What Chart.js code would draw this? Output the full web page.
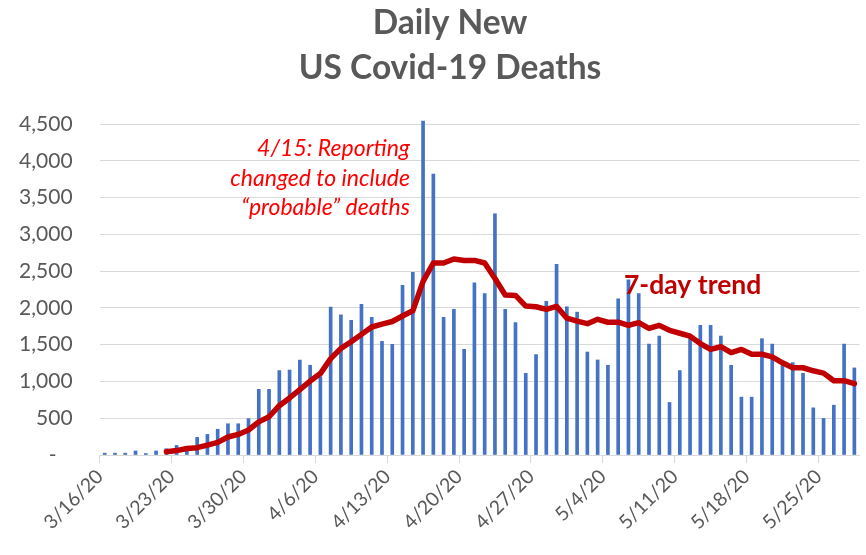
<!DOCTYPE html>
<html>
<head>
<meta charset="utf-8">
<script src="https://cdn.jsdelivr.net/npm/chart.js@4.4.1/dist/chart.umd.min.js"></script>
<style>
  html, body { margin: 0; padding: 0; background: #fff; }
  #wrap { width: 866px; height: 555px; }
</style>
</head>
<body>
<div id="wrap"><canvas id="deathsChart" width="866" height="555"></canvas></div>
<script>
// Data
const dates = [
  '3/16/20','3/17/20','3/18/20','3/19/20','3/20/20','3/21/20','3/22/20',
  '3/23/20','3/24/20','3/25/20','3/26/20','3/27/20','3/28/20','3/29/20',
  '3/30/20','3/31/20','4/1/20','4/2/20','4/3/20','4/4/20','4/5/20',
  '4/6/20','4/7/20','4/8/20','4/9/20','4/10/20','4/11/20','4/12/20',
  '4/13/20','4/14/20','4/15/20','4/16/20','4/17/20','4/18/20','4/19/20',
  '4/20/20','4/21/20','4/22/20','4/23/20','4/24/20','4/25/20','4/26/20',
  '4/27/20','4/28/20','4/29/20','4/30/20','5/1/20','5/2/20','5/3/20',
  '5/4/20','5/5/20','5/6/20','5/7/20','5/8/20','5/9/20','5/10/20',
  '5/11/20','5/12/20','5/13/20','5/14/20','5/15/20','5/16/20','5/17/20',
  '5/18/20','5/19/20','5/20/20','5/21/20','5/22/20','5/23/20','5/24/20',
  '5/25/20','5/26/20','5/27/20','5/28/20'
];

const dailyDeaths = [
  25, 25, 25, 55, 20, 55, 85, 130, 110, 240,
  280, 350, 425, 425, 495, 893, 893, 1148, 1155, 1290,
  1220, 1065, 2010, 1905, 1830, 2050, 1870, 1545, 1505, 2305,
  2485, 4540, 3820, 1870, 1980, 1437, 2340, 2195, 3280, 1980,
  1800, 1110, 1365, 2088, 2593, 2015, 1942, 1400, 1292, 1220,
  2124, 2380, 2195, 1508, 1617, 714, 1148, 1610, 1762, 1762,
  1617, 1220, 786, 786, 1581, 1508, 1227, 1256, 1111, 641,
  497, 677, 1508, 1184
];

const trend7 = [
  null, null, null, null, null, null,
  45, 60, 88, 100, 135, 172, 245, 280, 340, 450,
  520, 670, 775, 890, 1005, 1107, 1310, 1450, 1540, 1640,
  1740, 1780, 1815, 1890, 1960, 2360, 2610, 2610, 2665, 2645,
  2645, 2610, 2400, 2175, 2170, 2025, 2015, 1980, 2020, 1860,
  1820, 1785, 1845, 1805, 1805, 1762, 1800, 1720, 1762, 1695,
  1655, 1615, 1515, 1435, 1472, 1392, 1435, 1370, 1370, 1333,
  1253, 1186, 1186, 1145, 1113, 1010, 1010, 970
];

const yMax = 4500;
const yStep = 500;

const titleLines = ['Daily New', 'US Covid-19 Deaths'];
const noteLines = ['4/15: Reporting', 'changed to include', '\u201Cprobable\u201D deaths'];
const trendLabel = '7-day trend';

const FONT = 'Lato, "Open Sans", sans-serif';

// title + text notes drawn straight on the canvas
const textPlugin = {
  id: 'textNotes',
  afterDatasetsDraw(chart) {
    const c = chart.ctx;
    c.save();
    c.textBaseline = 'middle';

    c.fillStyle = '#595959';
    c.textAlign = 'center';
    c.font = 'bold 33.5px ' + FONT;
    c.fillText(titleLines[0], 450, 23);
    c.fillText(titleLines[1], 450, 68);

    c.fillStyle = '#FF0000';
    c.textAlign = 'right';
    c.font = 'italic 23px ' + FONT;
    c.fillText(noteLines[0], 410, 149);
    c.fillText(noteLines[1], 410, 179);
    c.fillText(noteLines[2], 410, 208);

    c.fillStyle = '#C00000';
    c.textAlign = 'left';
    c.font = 'bold 26.5px ' + FONT;
    c.fillText(trendLabel, 624, 285);
    c.restore();
  }
};

const ctx = document.getElementById('deathsChart').getContext('2d');
new Chart(ctx, {
  data: {
    labels: dates,
    datasets: [
      {
        type: 'line',
        label: '7-day trend',
        data: trend7,
        borderColor: '#C00000',
        borderWidth: 5.5,
        borderJoinStyle: 'round',
        borderCapStyle: 'round',
        pointRadius: 0,
        tension: 0,
        order: 0
      },
      {
        type: 'bar',
        label: 'Daily deaths',
        data: dailyDeaths,
        backgroundColor: '#4472C4',
        barThickness: 3,
        clip: false,
        order: 1
      }
    ]
  },
  options: {
    responsive: false,
    animation: false,
    devicePixelRatio: 1,
    layout: { padding: { top: 124, right: 6.5, left: 0, bottom: 0 } },
    plugins: {
      legend: { display: false },
      tooltip: { enabled: false }
    },
    scales: {
      x: {
        type: 'category',
        offset: true,
        afterFit(scale) {
          scale.height = 100;
          scale.paddingLeft = 0;
          scale.paddingRight = 0;
        },
        border: { display: true, color: '#D9D9D9', width: 1 },
        grid: {
          offset: true,
          drawOnChartArea: false,
          tickLength: 8,
          color: (c) => (c.index % 7 === 0 ? '#D9D9D9' : 'rgba(0,0,0,0)')
        },
        ticks: {
          autoSkip: false,
          maxRotation: 45,
          minRotation: 45,
          padding: 2,
          labelOffset: -5,
          color: '#595959',
          font: { family: FONT, size: 19.5 },
          callback(val, idx) {
            return idx % 7 === 0 ? this.getLabelForValue(val) : '';
          }
        }
      },
      y: {
        min: 0,
        max: yMax,
        afterFit(scale) {
          scale.width = 99.6;
          scale.paddingTop = 0;
          scale.paddingBottom = 0;
        },
        border: { display: false },
        grid: { color: '#D9D9D9', lineWidth: 1, drawTicks: false },
        ticks: {
          stepSize: yStep,
          padding: 27,
          color: '#595959',
          font: { family: FONT, size: 21 },
          callback: (v) => (v === 0 ? '-   ' : v.toLocaleString('en-US'))
        }
      }
    }
  },
  plugins: [textPlugin]
});
</script>
</body>
</html>
